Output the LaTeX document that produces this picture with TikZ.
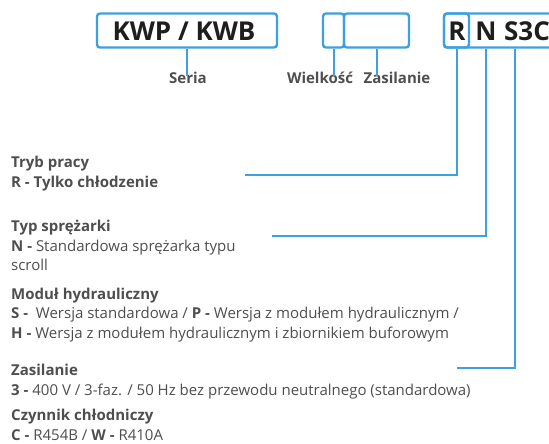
\documentclass[tikz,border=0pt]{standalone}
\usepackage{fontspec}
\setmainfont{Open Sans}
\definecolor{kwblue}{RGB}{62,160,222}
\definecolor{kwgray}{RGB}{78,78,78}
\definecolor{kwdark}{RGB}{30,30,30}
\usetikzlibrary{positioning}

\begin{document}
\begin{tikzpicture}[x=1pt, y=-1pt, every node/.style={inner sep=0pt, text=kwgray},
  codebox/.style={draw=kwblue, line width=2.4pt, rounded corners=3pt, minimum height=34pt},
  code/.style={font=\fontsize{26}{30}\selectfont\bfseries, text=kwdark},
  link/.style={draw=kwblue, line width=2pt},
  tag/.style={anchor=base, font=\fontsize{15}{18}\selectfont\bfseries},
  desc/.style={anchor=base west, align=left, font=\fontsize{15}{19.3}\selectfont}]
\useasboundingbox (0,0) rectangle (549,444);
% Code boxes
\node[codebox, minimum width=180pt] (seriesbox) at (187,30.5) {};
\node[codebox, minimum width=21pt] (sizebox) at (333.5,30.5) {};
\node[codebox, minimum width=65pt] (powerbox) at (376.5,30.5) {};
\node[codebox, minimum width=160pt] (rnbox) at (524,30.5) {};
\node[codebox, minimum width=25pt] (rbox) at (456.5,30.5) {};
\node[code] (codeseries) at (184,31) {KWP / KWB};
\node[code] (codeR) at (457,31) {R};
\node[code] (codeN) at (486,31) {N};
\node[code] (codeS) at (527,31) {S3C};
% Top labels
\node[tag] (seria) at (188,84) {Seria};
\node[tag] (wielkosc) at (320,84) {Wielkość};
\node[tag] (zasil) at (397,84) {Zasilanie};
\draw[link] (seriesbox.south) -- ([yshift=-4pt]seriesbox.south |- seria.north);
\draw[link] (sizebox.south) -- ([yshift=-4pt]sizebox.south |- wielkosc.north);
\draw[link] (powerbox.south) -- ([yshift=-4pt]powerbox.south |- zasil.north);
% Descriptions (anchored at the baseline of their last line)
\node[desc] (tryb) at (11,187) {\textbf{Tryb pracy}\\\textbf{R - Tylko chłodzenie}};
\node[desc] (typ) at (11,270.5) {\textbf{Typ sprężarki}\\\textbf{N -} Standardowa sprężarka typu\\scroll};
\node[desc] (modul) at (11,338) {\textbf{Moduł hydrauliczny}\\\textbf{S -}\ \ Wersja standardowa / \textbf{P -} Wersja z modułem hydraulicznym /\\\textbf{H -} Wersja z modułem hydraulicznym i zbiornikiem buforowym};
\node[desc] (zasilanie) at (11,395) {\textbf{Zasilanie}\\\textbf{3 -} 400 V / 3-faz. / 50 Hz bez przewodu neutralnego (standardowa)};
\node[desc] (czynnik) at (11,440) {\textbf{Czynnik chłodniczy}\\\textbf{C -} R454B / \textbf{W -} R410A};
% Leader lines
\coordinate (trybend) at (245,175);
\coordinate (typend) at (272,236);
\coordinate (s3cend) at (457,368);
\draw[link] (rbox.south) |- (trybend);
\draw[link] (codeN |- rnbox.south) |- (typend);
\draw[link] ([xshift=-12pt]codeS.south |- rnbox.south) |- (s3cend);
\end{tikzpicture}
\end{document}
